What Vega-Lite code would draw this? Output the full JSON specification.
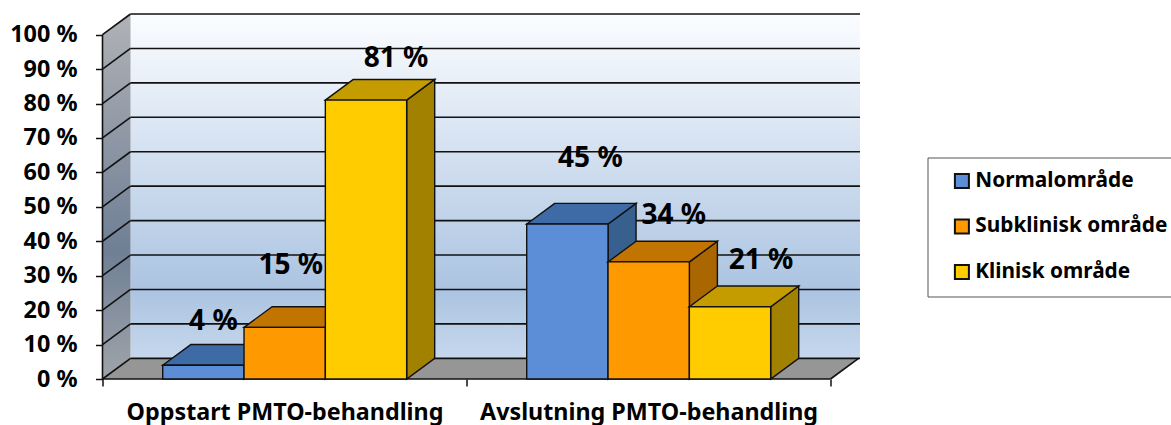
{"$schema":"https://vega.github.io/schema/vega-lite/v6.json","width":757.5,"height":365,"autosize":{"type":"none"},"padding":{"left":102.5,"top":14,"right":311,"bottom":46},"background":"white","config":{"view":{"stroke":null},"font":"Noto Sans"},
"datasets":{"bars":[
{"group":"Oppstart PMTO-behandling","series":"Normalområde","value":4},
{"group":"Oppstart PMTO-behandling","series":"Subklinisk område","value":15},
{"group":"Oppstart PMTO-behandling","series":"Klinisk område","value":81},
{"group":"Avslutning PMTO-behandling","series":"Normalområde","value":45},
{"group":"Avslutning PMTO-behandling","series":"Subklinisk område","value":34},
{"group":"Avslutning PMTO-behandling","series":"Klinisk område","value":21}],
"ticks":[{"v":0},{"v":10},{"v":20},{"v":30},{"v":40},{"v":50},{"v":60},{"v":70},{"v":80},{"v":90},{"v":100}],
"one":[{"k":1}]},
"layer":[
{"data":{"name":"one"},"mark":{"type":"rect","color":{"gradient":"linear","x1":0,"y1":0,"x2":0,"y2":1,"stops":[{"offset":0,"color":"#fbfdff"},{"offset":0.45,"color":"#cfddef"},{"offset":0.8,"color":"#abc4e1"},{"offset":1,"color":"#c6d7ec"}]}},
"encoding":{"x":{"datum":0.077,"type":"quantitative","scale":{"domain":[0,2.081],"nice":false,"zero":false},"axis":{"orient":"bottom","values":[0,1,2],"title":null,"labels":false,"domain":false,"grid":false,"ticks":true,"tickColor":"#111","tickWidth":1.5,"tickSize":7}},"x2":{"datum":2.081},"y":{"datum":6,"type":"quantitative","scale":{"domain":[0,106],"nice":false,"zero":false},"axis":{"orient":"left","values":[0,10,20,30,40,50,60,70,80,90,100],"title":null,"domain":false,"grid":false,"tickColor":"#111","tickWidth":1.5,"tickSize":7,"labelExpr":"datum.value + ' %'","labelFont":"Noto Sans","labelFontWeight":"bold","labelFontSize":23.4,"labelColor":"#000","labelPadding":18.5,"labelOverlap":false}},"y2":{"datum":106}}},
{"data":{"name":"one"},"transform":[{"calculate":"[0,1]","as":"t"},{"flatten":["t"]},{"calculate":"datum.t*0.077","as":"wx"},{"calculate":"100+datum.t*6","as":"wy"},{"calculate":"datum.t*6","as":"wy2"}],"mark":{"type":"area","orient":"vertical","color":{"gradient":"linear","x1":0,"y1":0,"x2":0,"y2":1,"stops":[{"offset":0,"color":"#b0b2b6"},{"offset":0.65,"color":"#6f7f95"},{"offset":1,"color":"#a0a4aa"}]}},
"encoding":{"x":{"field":"wx","type":"quantitative","axis":null},"y":{"field":"wy","type":"quantitative","axis":null},"y2":{"field":"wy2"}}},
{"data":{"name":"one"},"transform":[{"calculate":"[0,1]","as":"t"},{"flatten":["t"]},{"calculate":"datum.t*0.077","as":"fx"},{"calculate":"2+datum.t*0.077","as":"fx2"},{"calculate":"datum.t*6","as":"fy"}],"mark":{"type":"area","orient":"horizontal","color":"#969696"},
"encoding":{"x":{"field":"fx","type":"quantitative","axis":null},"x2":{"field":"fx2"},"y":{"field":"fy","type":"quantitative","axis":null}}},
{"data":{"name":"ticks"},"transform":[{"calculate":"datum.v+6","as":"gy"}],"mark":{"type":"rule","color":"#111","strokeWidth":1.6},
"encoding":{"x":{"datum":0.077,"type":"quantitative","axis":null},"x2":{"datum":2.081},"y":{"field":"gy","type":"quantitative","axis":null}}},
{"data":{"name":"ticks"},"transform":[{"calculate":"[0,1]","as":"t"},{"flatten":["t"]},{"calculate":"datum.t*0.077","as":"gx"},{"calculate":"datum.v+datum.t*6","as":"gy"}],"mark":{"type":"line","color":"#111","strokeWidth":1.6},
"encoding":{"x":{"field":"gx","type":"quantitative","axis":null},"y":{"field":"gy","type":"quantitative","axis":null},"detail":{"field":"v"}}},
{"data":{"name":"one"},"transform":[{"calculate":"[0,1]","as":"t"},{"flatten":["t"]},{"calculate":"2+datum.t*0.077","as":"gx"},{"calculate":"datum.t*6","as":"gy"}],"mark":{"type":"line","color":"#111","strokeWidth":1.6},
"encoding":{"x":{"field":"gx","type":"quantitative","axis":null},"y":{"field":"gy","type":"quantitative","axis":null}}},
{"data":{"name":"one"},"mark":{"type":"rule","color":"#111","strokeWidth":1.6},"encoding":{"x":{"datum":0,"type":"quantitative","axis":null},"y":{"datum":0,"type":"quantitative","axis":null},"y2":{"datum":100}}},
{"data":{"name":"one"},"mark":{"type":"rule","color":"#111","strokeWidth":1.6},"encoding":{"x":{"datum":0,"type":"quantitative","axis":{"orient":"bottom","values":[0.5,1.5],"title":null,"domain":false,"ticks":false,"grid":false,"labelExpr":"datum.value < 1 ? 'Oppstart PMTO-behandling' : 'Avslutning PMTO-behandling'","labelFont":"Noto Sans","labelFontWeight":"bold","labelFontSize":23.3,"labelColor":"#000","labelPadding":22,"labelLimit":500,"labelOverlap":false}},"x2":{"datum":2},"y":{"datum":0,"type":"quantitative","axis":null}}},
{"data":{"name":"bars"},"transform":[
{"calculate":"indexof(['Oppstart PMTO-behandling','Avslutning PMTO-behandling'],datum.group)","as":"g"},
{"calculate":"indexof(['Normalområde','Subklinisk område','Klinisk område'],datum.series)","as":"s"},
{"calculate":"datum.g+0.1654+datum.s*0.2234","as":"x0"},
{"calculate":"datum.x0+0.2234","as":"x1"},
{"calculate":"[0,1]","as":"t"},{"flatten":["t"]},
{"calculate":"datum.x1+datum.t*0.077","as":"sx"},
{"calculate":"datum.t*6","as":"sy0"},
{"calculate":"datum.value+datum.t*6","as":"sy1"},
{"calculate":"datum.x0+datum.t*0.077","as":"tx0"},
{"calculate":"(datum.x0+datum.x1)/2","as":"cx"},
{"calculate":"datum.value + ' %'","as":"label"}],
"layer":[
{"transform":[{"filter":"datum.s==0"}],"mark":{"type":"area","orient":"vertical","color":"#38608f","stroke":"#111","strokeWidth":1.4},"encoding":{"x":{"field":"sx","type":"quantitative","axis":null},"y":{"field":"sy1","type":"quantitative","axis":null},"y2":{"field":"sy0"},"detail":{"field":"g"}}},
{"transform":[{"filter":"datum.s==0"}],"mark":{"type":"area","orient":"horizontal","color":"#3e6aa6","stroke":"#111","strokeWidth":1.4},"encoding":{"y":{"field":"sy1","type":"quantitative","axis":null},"x":{"field":"tx0","type":"quantitative","axis":null},"x2":{"field":"sx"},"detail":{"field":"g"}}},
{"transform":[{"filter":"datum.s==0 && datum.t==0"}],"mark":{"type":"rect","stroke":"#111","strokeWidth":1.4},"encoding":{"x":{"field":"x0","type":"quantitative","axis":null},"x2":{"field":"x1"},"y":{"field":"value","type":"quantitative","axis":null},"y2":{"datum":0},"color":{"field":"series","type":"nominal","scale":{"domain":["Normalområde","Subklinisk område","Klinisk område"],"range":["#5b8ed6","#ff9900","#ffcc00"]},"legend":{"title":null,"orient":"none","legendX":825,"legendY":143.5,"padding":13,"symbolType":"square","symbolSize":196,"symbolStrokeColor":"#111","symbolStrokeWidth":2,"symbolOffset":11,"labelFont":"Noto Sans","labelFontWeight":"bold","labelFontSize":20.8,"labelColor":"#000","labelOffset":3,"labelLimit":300,"rowPadding":22.5,"strokeColor":"#555","fillColor":"white"}}}},
{"transform":[{"filter":"datum.s==1"}],"mark":{"type":"area","orient":"vertical","color":"#aa6600","stroke":"#111","strokeWidth":1.4},"encoding":{"x":{"field":"sx","type":"quantitative","axis":null},"y":{"field":"sy1","type":"quantitative","axis":null},"y2":{"field":"sy0"},"detail":{"field":"g"}}},
{"transform":[{"filter":"datum.s==1"}],"mark":{"type":"area","orient":"horizontal","color":"#c27400","stroke":"#111","strokeWidth":1.4},"encoding":{"y":{"field":"sy1","type":"quantitative","axis":null},"x":{"field":"tx0","type":"quantitative","axis":null},"x2":{"field":"sx"},"detail":{"field":"g"}}},
{"transform":[{"filter":"datum.s==1 && datum.t==0"}],"mark":{"type":"rect","stroke":"#111","strokeWidth":1.4},"encoding":{"x":{"field":"x0","type":"quantitative","axis":null},"x2":{"field":"x1"},"y":{"field":"value","type":"quantitative","axis":null},"y2":{"datum":0},"color":{"field":"series","type":"nominal"}}},
{"transform":[{"filter":"datum.s==2"}],"mark":{"type":"area","orient":"vertical","color":"#a28000","stroke":"#111","strokeWidth":1.4},"encoding":{"x":{"field":"sx","type":"quantitative","axis":null},"y":{"field":"sy1","type":"quantitative","axis":null},"y2":{"field":"sy0"},"detail":{"field":"g"}}},
{"transform":[{"filter":"datum.s==2"}],"mark":{"type":"area","orient":"horizontal","color":"#c49c00","stroke":"#111","strokeWidth":1.4},"encoding":{"y":{"field":"sy1","type":"quantitative","axis":null},"x":{"field":"tx0","type":"quantitative","axis":null},"x2":{"field":"sx"},"detail":{"field":"g"}}},
{"transform":[{"filter":"datum.s==2 && datum.t==0"}],"mark":{"type":"rect","stroke":"#111","strokeWidth":1.4},"encoding":{"x":{"field":"x0","type":"quantitative","axis":null},"x2":{"field":"x1"},"y":{"field":"value","type":"quantitative","axis":null},"y2":{"datum":0},"color":{"field":"series","type":"nominal"}}},
{"transform":[{"filter":"datum.t==0 && datum.g==0 && datum.s==0"}],"mark":{"type":"text","dx":10,"dy":-43,"fontSize":28,"fontWeight":"bold","color":"#000"},"encoding":{"x":{"field":"cx","type":"quantitative","axis":null},"y":{"field":"value","type":"quantitative","axis":null},"text":{"field":"label"}}},
{"transform":[{"filter":"datum.t==0 && datum.g==0 && datum.s==1"}],"mark":{"type":"text","dx":6,"dy":-61,"fontSize":28,"fontWeight":"bold","color":"#000"},"encoding":{"x":{"field":"cx","type":"quantitative","axis":null},"y":{"field":"value","type":"quantitative","axis":null},"text":{"field":"label"}}},
{"transform":[{"filter":"datum.t==0 && datum.g==0 && datum.s==2"}],"mark":{"type":"text","dx":30,"dy":-41,"fontSize":28,"fontWeight":"bold","color":"#000"},"encoding":{"x":{"field":"cx","type":"quantitative","axis":null},"y":{"field":"value","type":"quantitative","axis":null},"text":{"field":"label"}}},
{"transform":[{"filter":"datum.t==0 && datum.g==1 && datum.s==0"}],"mark":{"type":"text","dx":23,"dy":-65,"fontSize":28,"fontWeight":"bold","color":"#000"},"encoding":{"x":{"field":"cx","type":"quantitative","axis":null},"y":{"field":"value","type":"quantitative","axis":null},"text":{"field":"label"}}},
{"transform":[{"filter":"datum.t==0 && datum.g==1 && datum.s==1"}],"mark":{"type":"text","dx":25,"dy":-46,"fontSize":28,"fontWeight":"bold","color":"#000"},"encoding":{"x":{"field":"cx","type":"quantitative","axis":null},"y":{"field":"value","type":"quantitative","axis":null},"text":{"field":"label"}}},
{"transform":[{"filter":"datum.t==0 && datum.g==1 && datum.s==2"}],"mark":{"type":"text","dx":31,"dy":-46,"fontSize":28,"fontWeight":"bold","color":"#000"},"encoding":{"x":{"field":"cx","type":"quantitative","axis":null},"y":{"field":"value","type":"quantitative","axis":null},"text":{"field":"label"}}}
]}
],"resolve":{"axis":{"x":"independent","y":"independent"}}}
